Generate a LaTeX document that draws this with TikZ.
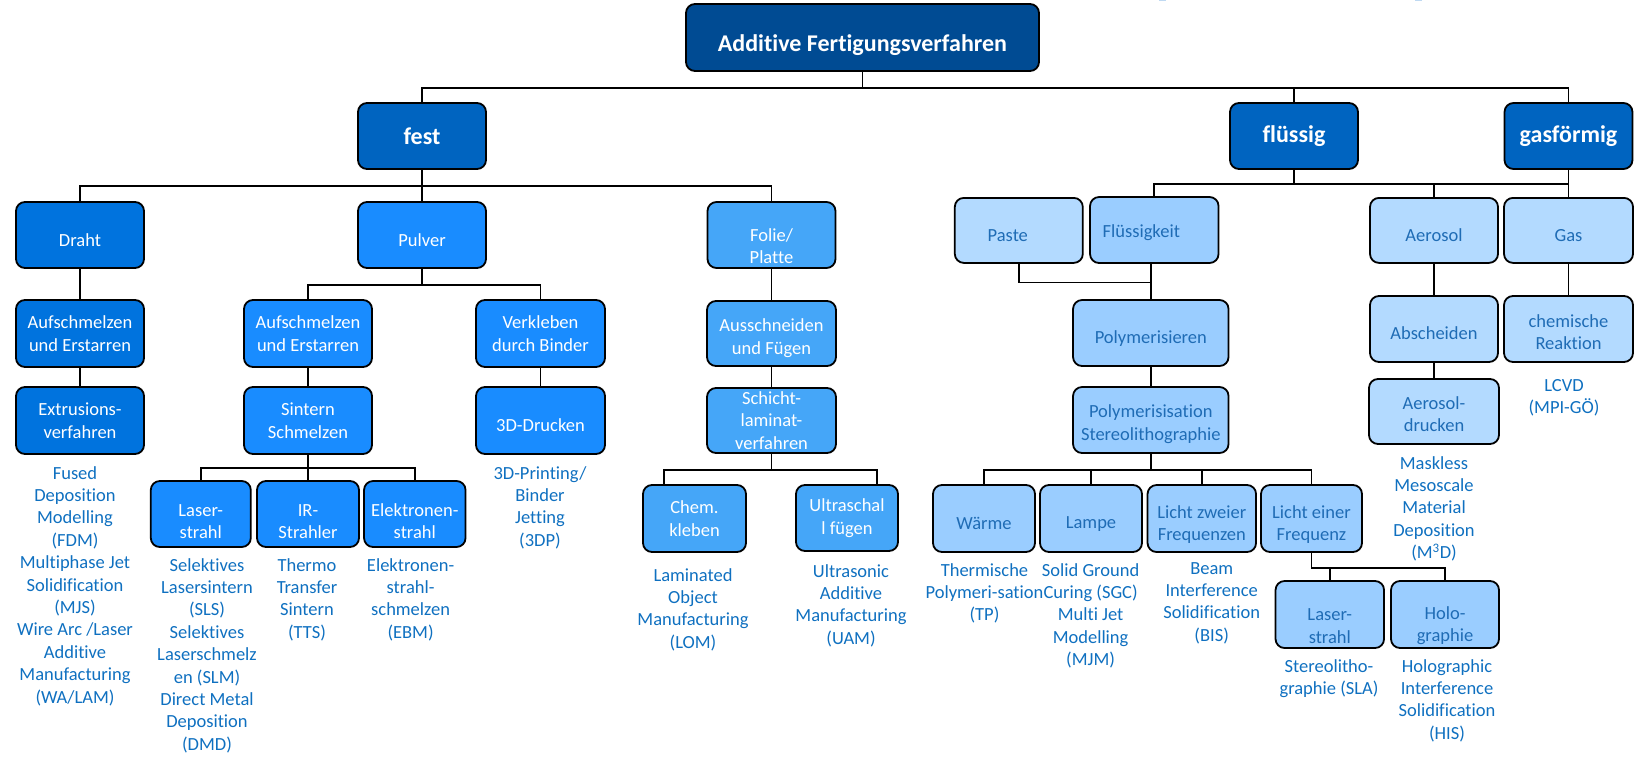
\documentclass[tikz,border=0pt]{standalone}
\usepackage{fontspec}
\setmainfont[Ligatures=NoCommon]{Carlito}
\definecolor{rootblue}{HTML}{004B93}
\definecolor{stateblue}{HTML}{0064C0}
\definecolor{wireblue}{HTML}{0073DE}
\definecolor{powderblue}{HTML}{198CFF}
\definecolor{foilblue}{HTML}{45A6F8}
\definecolor{liqblue}{HTML}{9ACDFF}
\definecolor{paleblue}{HTML}{B3DAFF}
\definecolor{inktext}{HTML}{1F6CB5}
\definecolor{notetext}{HTML}{0F70C0}
\definecolor{tickblue}{HTML}{BFD9F2}
\begin{document}
\begin{tikzpicture}[x=1pt,y=-1pt,
  box/.style={draw=black, line width=1.8pt, rounded corners=9pt, inner sep=0pt,
    align=center, minimum width=128pt, minimum height=66pt,
    font=\fontsize{18.5}{22.4}\selectfont},
  dark/.style={box, text=white},
  pale/.style={box, text=inktext},
  head/.style={box, text=white, fill=stateblue, font=\bfseries\fontsize{24}{28}\selectfont},
  link/.style={line width=1.8pt},
  note/.style={anchor=north, inner sep=0pt, align=center, text=notetext,
    font=\fontsize{18.5}{22.4}\selectfont, execute at begin node=\strut}]
\useasboundingbox (0,0) rectangle (1639,756);

% small marks along the top edge
\fill[tickblue] (1159,0) rectangle (1166,1.4);
\fill[tickblue] (1415,0) rectangle (1422,1.4);

% ---------- root and states ----------
\node[head, fill=rootblue, minimum width=353pt, minimum height=67pt] (root) at (862.5,37.5)
  {\rule{0pt}{32pt}Additive Fertigungsverfahren};
\node[head] (fest) at (422,136) {fest};
\node[head] (fluessig) at (1294,136) {flüssig};
\node[head] (gasf) at (1568.5,136) {gasförmig};

% ---------- fest ----------
\node[dark, fill=wireblue] (draht) at (80,235) {\rule{0pt}{23pt}Draht};
\node[dark, fill=powderblue] (pulver) at (422,235) {\rule{0pt}{23pt}Pulver};
\node[dark, fill=foilblue] (folie) at (771.5,235) {\rule{0pt}{35pt}Folie/\\Platte};

\node[dark, fill=wireblue, minimum height=67pt] (aufD) at (80,333.5) {Aufschmelzen\\und Erstarren};
\node[dark, fill=wireblue, minimum height=67pt] (extr) at (80,420.5) {Extrusions-\\verfahren};

\node[dark, fill=powderblue, minimum height=67pt] (aufP) at (308,333.5) {Aufschmelzen\\und Erstarren};
\node[dark, fill=powderblue, minimum width=129pt, minimum height=67pt] (verkl) at (540.5,333.5) {Verkleben\\durch Binder};
\node[dark, fill=powderblue, minimum height=67pt] (sint) at (308,420.5) {Sintern\\Schmelzen};
\node[dark, fill=powderblue, minimum width=129pt, minimum height=67pt] (druck) at (540.5,420.5) {\rule{0pt}{22pt}3D-Drucken};

\node[dark, fill=powderblue, minimum width=100pt] (laserA) at (200.8,514) {\rule{0pt}{27pt}Laser-\\strahl};
\node[dark, fill=powderblue, minimum width=102pt] (ir) at (308,514) {\rule{0pt}{27pt}IR-\\Strahler};
\node[dark, fill=powderblue, minimum width=101.5pt] (elek) at (414.8,514) {\rule{0pt}{27pt}Elektronen-\\strahl};

\node[dark, fill=foilblue, minimum width=129pt, minimum height=65pt] (aussch) at (771.5,333.5) {\rule{0pt}{22pt}Ausschneiden\\und Fügen};
\node[dark, fill=foilblue, minimum width=129pt, minimum height=65pt] (schicht) at (771.5,420.5) {Schicht-\\laminat-\\verfahren};
\node[dark, fill=foilblue, minimum width=103pt, minimum height=67pt] (chem) at (694.5,518.5) {Chem.\\kleben};
\node[dark, fill=foilblue, minimum width=102pt] (ultra) at (847,518) {Ultraschal\\l fügen};

% ---------- fluessig ----------
\node[pale, fill=paleblue, minimum height=65pt] (paste) at (1018.8,230.4) {\rule{0pt}{22pt}Paste\hspace*{22pt}};
\node[pale, fill=liqblue, minimum width=128.5pt] (fluessigkeit) at (1154.3,230) {\rule{0pt}{19pt}Flüssigkeit\hspace*{26pt}};
\node[pale, fill=liqblue, minimum width=155.5pt] (polym) at (1150.8,333) {\rule{0pt}{23pt}Polymerisieren};
\node[pale, fill=liqblue, minimum width=155.5pt] (polyst) at (1150.8,420) {\rule{0pt}{21pt}Polymerisisation\\Stereolithographie};

\node[pale, fill=liqblue, minimum width=102pt, minimum height=67pt] (waerme) at (984,518.5) {\rule{0pt}{22pt}Wärme};
\node[pale, fill=liqblue, minimum width=102pt, minimum height=67pt] (lampe) at (1091,518.5) {\rule{0pt}{22pt}Lampe};
\node[pale, fill=liqblue, minimum width=108.5pt, minimum height=67pt] (zweier) at (1201.8,518.5) {\rule{0pt}{25pt}Licht zweier\\Frequenzen};
\node[pale, fill=liqblue, minimum width=101pt, minimum height=67pt] (einer) at (1311.5,518.5) {\rule{0pt}{25pt}Licht einer\\Frequenz};
\node[pale, fill=liqblue, minimum width=108.5pt, minimum height=67pt] (laserB) at (1329.8,614.5) {\rule{0pt}{35pt}Laser-\\strahl};
\node[pale, fill=liqblue, minimum width=108pt, minimum height=67pt] (holo) at (1445,614.5) {\rule{0pt}{35pt}Holo-\\graphie};

% ---------- gasfoermig ----------
\node[pale, fill=paleblue, minimum height=65pt] (aerosol) at (1434,230.4) {\rule{0pt}{22pt}Aerosol};
\node[pale, fill=paleblue, minimum width=129pt, minimum height=65pt] (gas) at (1568.5,230.4) {\rule{0pt}{22pt}Gas};
\node[pale, fill=paleblue] (absch) at (1434,329) {\rule{0pt}{21pt}Abscheiden};
\node[pale, fill=paleblue, minimum width=129pt] (chemr) at (1568.5,329) {\rule{0pt}{19pt}chemische\\Reaktion};
\node[pale, fill=paleblue, minimum width=130pt, minimum height=65pt] (aerodr) at (1434,411.5) {\rule{0pt}{18pt}Aerosol-\\drucken};

% ---------- connectors ----------
\draw[link] (root.south) -- ++(0,16) -| (fest.north);
\draw[link] (root.south) -- ++(0,16) -| (fluessig.north);
\draw[link] (root.south) -- ++(0,16) -| (gasf.north);

\draw[link] (fest.south) -- ++(0,16) -| (draht.north);
\draw[link] (fest.south) -- ++(0,16) -| (pulver.north);
\draw[link] (fest.south) -- ++(0,16) -| (folie.north);
\draw[link] (draht) -- (aufD);
\draw[link] (aufD) -- (extr);
\draw[link] (pulver.south) -- ++(0,16) -| (aufP.north);
\draw[link] (pulver.south) -- ++(0,16) -| (verkl.north);
\draw[link] (aufP) -- (sint);
\draw[link] (verkl) -- (druck);
\draw[link] (sint.south) -- ++(0,13) -| (laserA.north);
\draw[link] (sint.south) -- ++(0,13) -| (ir.north);
\draw[link] (sint.south) -- ++(0,13) -| (elek.north);
\draw[link] (folie) -- (aussch);
\draw[link] (aussch) -- (schicht);
\draw[link] (schicht.south) -- ++(0,16) -| ([xshift=-30.5pt]chem.north);
\draw[link] (schicht.south) -- ++(0,16) -| ([xshift=29.7pt]ultra.north);

\draw[link] (fluessig.south) -- ++(0,14) -| (fluessigkeit.north);
\draw[link] (fluessig.south) -- ++(0,14) -| (aerosol.north);
\draw[link] (fluessig.south) -- ++(0,14) -| (gas.north);
\draw[link] (gasf) -- (gas);
\draw[link] (paste.south) -- ++(0,18.7) -| (polym.north);
\draw[link] (fluessigkeit.south -| polym.north) -- (polym.north);
\draw[link] (polym) -- (polyst);
\draw[link] (polyst.south) -- ++(0,16) -| (waerme.north);
\draw[link] (polyst.south) -- ++(0,16) -| (lampe.north);
\draw[link] (polyst.south) -- ++(0,16) -| (zweier.north);
\draw[link] (polyst.south) -- ++(0,16) -| (einer.north);
\draw[link] (einer.south) -- ++(0,14.7) -| (laserB.north);
\draw[link] (einer.south) -- ++(0,14.7) -| (holo.north);
\draw[link] (aerosol) -- (absch);
\draw[link] (absch) -- (aerodr);
\draw[link] (gas) -- (chemr);

% ---------- process names ----------
\node[note] (fdm) at (75,466) {Fused\\Deposition\\Modelling\\(FDM)\\Multiphase Jet\\Solidification\\(MJS)\\Wire Arc /Laser\\Additive\\Manufacturing\\(WA/LAM)};
\node[note] (sls) at (207,558) {Selektives\\Lasersintern\\(SLS)\\Selektives\\Laserschmelz\\en (SLM)\\Direct Metal\\Deposition\\(DMD)};
\node[note] (tts) at (307,558) {Thermo\\Transfer\\Sintern\\(TTS)};
\node[note] (ebm) at (410.6,558) {Elektronen-\\strahl-\\schmelzen\\(EBM)};
\node[note] (tdp) at (540,466) {3D-Printing/\\Binder\\Jetting\\(3DP)};
\node[note] (lom) at (693,568) {Laminated\\Object\\Manufacturing\\(LOM)};
\node[note] (uam) at (851,564) {Ultrasonic\\Additive\\Manufacturing\\(UAM)};
\node[note] (tp) at (984.5,563) {Thermische\\Polymeri-sation\\(TP)};
\node[note] (sgc) at (1090.6,563) {Solid Ground\\Curing (SGC)\\Multi Jet\\Modelling\\(MJM)};
\node[note] (bis) at (1211.7,562) {Beam\\Interference\\Solidification\\(BIS)};
\node[note] (sla) at (1329,659) {Stereolitho-\\graphie (SLA)};
\node[note] (his) at (1447,659) {Holographic\\Interference\\Solidification\\(HIS)};
\node[note] (mmd) at (1434,456) {Maskless\\Mesoscale\\Material\\Deposition\\(M\textsuperscript{3}D)};
\node[note] (lcvd) at (1564,379) {LCVD\\(MPI-GÖ)};
\end{tikzpicture}
\end{document}
